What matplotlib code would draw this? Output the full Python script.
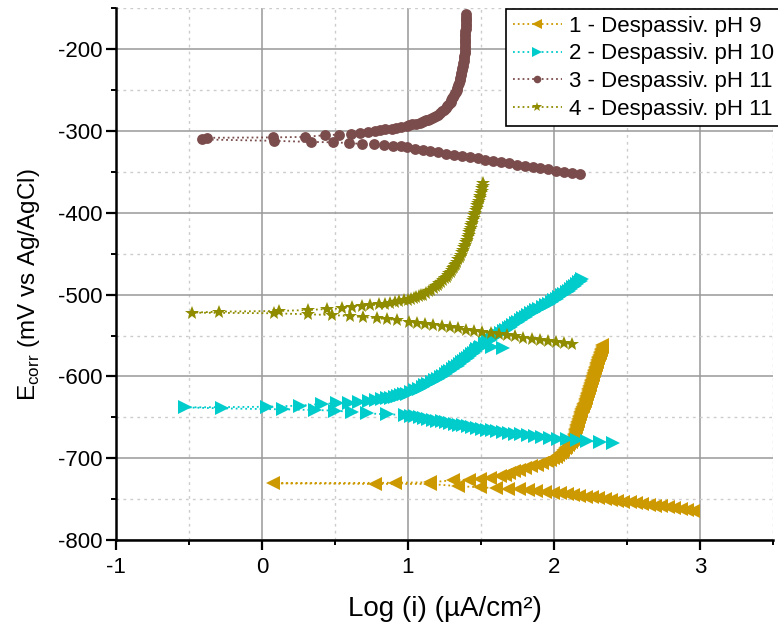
import matplotlib
matplotlib.use('Agg')
import matplotlib.pyplot as plt
from matplotlib.ticker import MultipleLocator

plt.rcParams['font.family'] = ['Liberation Sans', 'DejaVu Sans']
plt.rcParams['axes.unicode_minus'] = False

labels = ['1 - Despassiv. pH 9', '2 - Despassiv. pH 10',
          '3 - Despassiv. pH 11', '4 - Despassiv. pH 11']
colors = ['#CC9900', '#00CCCC', '#7B4C4C', '#8F8C00']
markers = ['<', '>', 'o', '*']

# Series 1 (pH 9): log(i) and E (mV)
s1_x = [2.95, 2.91, 2.867, 2.823, 2.78, 2.736, 2.693, 2.65, 2.606, 2.563, 2.52, 2.476,
        2.433, 2.39, 2.346, 2.303, 2.26, 2.216, 2.173, 2.13, 2.086, 2.04, 1.995, 1.94,
        1.88, 1.825, 1.76, 1.687, 1.603, 1.493, 1.345, 1.15, 0.774, 0.073, 0.911, 1.151,
        1.31, 1.42, 1.493, 1.562, 1.63, 1.665, 1.695, 1.725, 1.76, 1.80, 1.845, 1.885,
        1.92, 1.95, 1.975, 1.995, 2.013, 2.028, 2.04, 2.053, 2.065, 2.075, 2.085, 2.095,
        2.105, 2.115, 2.122, 2.128, 2.132, 2.136, 2.139, 2.142, 2.145, 2.147, 2.15,
        2.153, 2.157, 2.16, 2.164, 2.167, 2.17, 2.173, 2.177, 2.18, 2.184, 2.188, 2.192,
        2.196, 2.2, 2.205, 2.209, 2.213, 2.217, 2.221, 2.224, 2.228, 2.232, 2.236, 2.24,
        2.243, 2.246, 2.249, 2.251, 2.254, 2.257, 2.26, 2.264, 2.268, 2.271, 2.275, 2.279,
        2.282, 2.286, 2.289, 2.292, 2.296, 2.3, 2.304, 2.308, 2.312, 2.316, 2.32, 2.324,
        2.328, 2.332]
s1_y = [-764, -763, -762, -761, -760, -759, -758, -757, -756, -755, -754, -753,
        -752, -751, -750, -749, -748, -747, -746, -745, -744, -743, -742, -741,
        -740, -739, -738, -737.4, -736.7, -735.5, -734.2, -731.5, -731.5, -730.7, -730, -729.5,
        -726.9, -726.1, -725.3, -724.1, -722, -720, -718, -716, -714, -712, -710, -708,
        -706, -704, -702, -700, -698, -696, -694, -692, -690, -688, -686, -684,
        -682, -680, -678, -676, -674, -672, -670, -668, -666, -664, -662,
        -660, -658, -656, -654, -652, -650, -648, -646, -644, -642, -640, -638,
        -636, -634, -632, -630, -628, -626, -624, -622, -620, -618, -616, -614,
        -612, -610, -608, -606, -604, -602, -600, -598, -596, -594, -592, -590,
        -588, -586, -584, -582, -580, -578, -576, -574, -572, -570, -568, -566,
        -564, -562]

# Series 2 (pH 10)
s2_x = [2.406, 2.315, 2.228, 2.155, 2.09, 2.03, 1.975, 1.92, 1.87, 1.82, 1.775, 1.73,
        1.69, 1.65, 1.61, 1.575, 1.54, 1.505, 1.47, 1.44, 1.41, 1.38, 1.35, 1.32, 1.29,
        1.26, 1.23, 1.20, 1.17, 1.14, 1.11, 1.08, 1.05, 1.02, 0.98, 0.854, 0.717, 0.614,
        0.5, 0.363, 0.146, -0.276, -0.527, 0.032, 0.26, 0.409, 0.511, 0.596, 0.667,
        0.73, 0.78, 0.82, 0.855, 0.885, 0.91, 0.935, 0.955, 0.975, 0.99, 1.02, 1.05,
        1.075, 1.10, 1.12, 1.14, 1.163, 1.185, 1.205, 1.225, 1.243, 1.258, 1.273, 1.29,
        1.307, 1.325, 1.341, 1.357, 1.372, 1.386, 1.4, 1.413, 1.426, 1.439, 1.452, 1.464,
        1.476, 1.49, 1.50, 1.573, 1.653, 1.53, 1.548, 1.566, 1.584, 1.602, 1.62, 1.638,
        1.655, 1.672, 1.689, 1.705, 1.72, 1.737, 1.754, 1.771, 1.789, 1.806, 1.824,
        1.841, 1.86, 1.88, 1.9, 1.922, 1.944, 1.965, 1.985, 2.003, 2.02, 2.037, 2.054,
        2.07, 2.086, 2.102, 2.118, 2.133, 2.147, 2.16, 2.172, 2.183, 2.193]
s2_y = [-681, -680, -679, -678, -677, -676, -675, -674, -673, -672, -671, -670,
        -669, -668, -667, -666, -665, -664, -663, -662, -661, -660, -659, -658, -657,
        -656, -655, -654, -653, -652, -651, -650, -649, -648, -647, -646.4, -645.1, -643.5,
        -641.9, -641.1, -640.3, -639.1, -637.9, -637.1, -635.7, -633.7, -632.8, -632.1, -631.3,
        -630, -629, -628, -627, -626, -625, -624, -623, -622, -621, -619, -617,
        -615, -613, -611, -609, -607, -605, -603, -601, -599, -597, -595, -593,
        -591, -589, -587, -585, -583, -581, -579, -577, -575, -573, -571, -569,
        -567, -565, -564, -564, -565.5, -559, -557, -555, -553, -551, -549, -547,
        -545, -543, -541, -539, -537, -535, -533, -531, -529, -527, -525,
        -523, -521, -519, -517, -515, -513, -511, -509, -507, -505, -503, -501,
        -499, -497, -495, -493, -491, -489, -487, -485, -483, -481]

# Series 3 (pH 11)
s3_x = [2.176, 2.122, 2.068, 2.014, 1.961, 1.907, 1.853, 1.799, 1.746, 1.692, 1.638,
        1.584, 1.530, 1.477, 1.423, 1.369, 1.315, 1.262, 1.208, 1.154, 1.100, 1.047,
        0.993, 0.95, 0.90, 0.838, 0.769, 0.687, 0.596, 0.484, 0.333, 0.082, -0.413,
        -0.379, 0.078, 0.295, 0.432, 0.53, 0.607, 0.671, 0.728, 0.774, 0.81, 0.845,
        0.89, 0.92, 0.955, 0.99, 1.01, 1.03, 1.055, 1.08, 1.095, 1.11, 1.125, 1.14,
        1.153, 1.165, 1.178, 1.19, 1.205, 1.22, 1.235, 1.245, 1.258, 1.268, 1.277,
        1.285, 1.292, 1.298, 1.304, 1.31, 1.316, 1.322, 1.328, 1.333, 1.339, 1.345,
        1.35, 1.355, 1.359, 1.363, 1.366, 1.37, 1.373, 1.376, 1.379, 1.382, 1.384,
        1.386, 1.388, 1.389, 1.39, 1.391, 1.392, 1.392, 1.393, 1.393, 1.394, 1.394,
        1.395, 1.395, 1.396, 1.396, 1.396, 1.397, 1.397]
s3_y = [-353, -351.5, -350, -348.5, -347, -345.5, -344, -342.5, -341, -339.5, -338,
        -336.5, -335, -333.5, -332, -330.5, -329, -327.5, -326, -324.5, -323, -321.5,
        -320, -318.8, -318.3, -317.5, -316.4, -315.9, -314.7, -313.8, -313.3, -312, -310.3,
        -308.3, -307.8, -307.2, -305.1, -304.3, -303.6, -302.4, -301.6, -300.4, -299, -298,
        -297, -296, -295, -294, -293, -292, -291, -290, -289, -288, -287, -286,
        -285, -284, -283, -282, -280, -278, -276, -274, -272, -270, -268,
        -266, -264, -262, -260, -258, -256, -254, -252, -250, -247, -244,
        -241, -238, -235, -232, -229, -226, -223, -220, -217, -214, -211,
        -208, -205, -202, -199, -196, -193, -190, -187, -184, -181, -178,
        -175, -172, -169, -166, -163, -160, -157]

# Series 4 (pH 11)
s4_x = [2.126, 2.07, 2.014, 1.958, 1.902, 1.846, 1.79, 1.734, 1.678, 1.622, 1.566,
        1.51, 1.454, 1.398, 1.342, 1.286, 1.23, 1.174, 1.118, 1.062, 1.006, 0.922,
        0.854, 0.785, 0.694, 0.603, 0.479, 0.317, 0.082, -0.482, -0.292, 0.116, 0.317,
        0.447, 0.546, 0.619, 0.683, 0.74, 0.80, 0.84, 0.88, 0.91, 0.94, 0.97, 1.0,
        1.02, 1.04, 1.058, 1.075, 1.088, 1.10, 1.124, 1.144, 1.16, 1.175, 1.19, 1.203,
        1.215, 1.228, 1.24, 1.253, 1.265, 1.274, 1.283, 1.292, 1.30, 1.307, 1.314,
        1.321, 1.328, 1.335, 1.346, 1.356, 1.364, 1.372, 1.379, 1.386, 1.392, 1.398,
        1.404, 1.41, 1.415, 1.42, 1.425, 1.43, 1.435, 1.44, 1.445, 1.45, 1.455, 1.46,
        1.465, 1.47, 1.475, 1.48, 1.485, 1.49, 1.495, 1.50, 1.504, 1.508, 1.512, 1.516]
s4_y = [-561, -559.6, -558.2, -556.8, -555.4, -554, -552.6, -551.2, -549.8, -548.4, -547,
        -545.6, -544.2, -542.8, -541.4, -540, -538.6, -537.2, -535.8, -534.4, -533, -531,
        -530, -528.8, -527.6, -526.2, -525, -524.1, -522.8, -522.1, -520.8, -520, -518.8,
        -517.6, -516.8, -514.8, -514, -513, -512, -511, -510, -509, -508, -507, -506,
        -505, -504, -503, -502, -501, -500, -498, -496, -494, -492, -490, -488,
        -486, -484, -482, -480, -478, -476, -474, -472, -470, -468, -466,
        -464, -462, -460, -457, -454, -451, -448, -445, -442, -439, -436,
        -433, -430, -427, -424, -421, -418, -415, -412, -409, -406, -403, -400,
        -397, -394, -391, -388, -385, -382, -379, -376, -373, -370, -367, -364]

series_x = [s1_x, s2_x, s3_x, s4_x]
series_y = [s1_y, s2_y, s3_y, s4_y]
msizes = [10.5, 10.5, 7.8, 10.5]

fig = plt.figure(figsize=(7.78, 6.26), dpi=100)
ax = fig.add_axes([0.149, 0.1374, 0.8446, 0.8493])

for xs, ys, c, m, ms, lab in zip(series_x, series_y, colors, markers, msizes, labels):
    ax.plot(xs, ys, linestyle=':', linewidth=1.3, color=c, marker=m,
            markersize=ms, markeredgewidth=0, label=lab, zorder=3)

ax.set_xlim(-1, 3.5)
ax.set_ylim(-800, -150)
ax.xaxis.set_major_locator(MultipleLocator(1))
ax.xaxis.set_minor_locator(MultipleLocator(0.5))
ax.yaxis.set_major_locator(MultipleLocator(100))
ax.yaxis.set_minor_locator(MultipleLocator(50))

ax.grid(which='major', color='#999999', linewidth=1.1, linestyle='-', zorder=0)
ax.grid(which='minor', color='#cccccc', linewidth=1.0, linestyle=(0, (2, 3)), zorder=0)
ax.set_axisbelow(True)

for s in ['top', 'right']:
    ax.spines[s].set_visible(False)
for s in ['left', 'bottom']:
    ax.spines[s].set_linewidth(1.8)
    ax.spines[s].set_color('black')

ax.tick_params(which='major', direction='out', length=7, width=1.6, labelsize=16)
ax.tick_params(axis='x', which='major', pad=5)
ax.tick_params(axis='y', which='major', pad=3)
ax.tick_params(which='minor', direction='out', length=3.5, width=1.4)

ax.set_xlabel('Log (i) (µA/cm²)', fontsize=20, labelpad=13)
ax.set_ylabel(r'E$_{\mathregular{corr}}$ (mV vs Ag/AgCl)', fontsize=17.5)
ax.yaxis.set_label_coords(-0.112, 0.48)

leg = ax.legend(loc='upper left', bbox_to_anchor=(506 / 778, 1 - 9 / 626),
                bbox_transform=fig.transFigure,
                prop={'family': ['Liberation Sans', 'DejaVu Sans'], 'size': 16},
                frameon=True, fancybox=False, edgecolor='black', framealpha=1,
                borderpad=0.3, borderaxespad=0, handlelength=2.2, handletextpad=0.35,
                labelspacing=0.3, numpoints=1, markerscale=0.7)
leg.get_frame().set_linewidth(1.2)

fig.savefig('out.png', dpi=100)
